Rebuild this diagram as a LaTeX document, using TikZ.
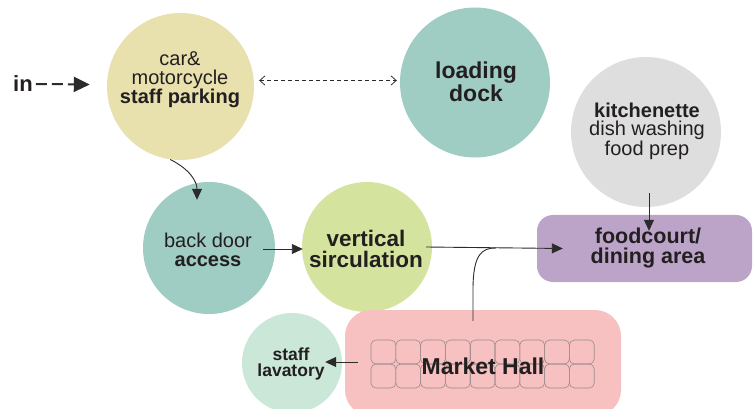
\documentclass[tikz,border=0pt]{standalone}
\usepackage{fontspec}
\setmainfont{Liberation Sans}
\usetikzlibrary{arrows.meta,calc}
\definecolor{ink}{HTML}{231F20}
\definecolor{lineink}{HTML}{2B2B2B}
\definecolor{parkc}{HTML}{E8E1AE}
\definecolor{tealc}{HTML}{9FCCC3}
\definecolor{vertc}{HTML}{D4E39D}
\definecolor{kitc}{HTML}{DEDEDF}
\definecolor{foodc}{HTML}{BCA4C8}
\definecolor{mhc}{HTML}{F8C1C1}
\definecolor{lavc}{HTML}{CBE7D8}
\definecolor{cellc}{HTML}{9A8A8A}
\begin{document}
\begin{tikzpicture}[x=1pt,y=-1pt,
  bubble/.style={circle, inner sep=0pt, minimum size=#1, draw=none},
  lbl/.style={align=center, text=ink, inner sep=0pt},
  conn/.style={draw=lineink, line width=0.9pt, -{Triangle[length=11pt,width=10pt]}},
  thin conn/.style={draw=lineink, line width=0.9pt}]
\useasboundingbox (0,0) rectangle (753,409);
\clip (0,0) rectangle (753,409);

% shapes
\node[bubble=147pt, fill=parkc] (park) at (180.5,86.5) {};
\node[bubble=150pt, fill=tealc] (dock) at (475,82.5) {};
\node[bubble=150pt, fill=kitc] (kit) at (646,132) {};
\node[bubble=132pt, fill=tealc] (bd) at (209,248) {};
\node[bubble=130pt, fill=vertc] (vs) at (367,247) {};
\node[bubble=100pt, fill=lavc] (lav) at (292,363) {};
\node[rectangle, rounded corners=16pt, fill=foodc, minimum width=215pt, minimum height=67pt, inner sep=0pt] (fc) at (644.5,248.5) {};
\node[rectangle, rounded corners=26pt, fill=mhc, minimum width=276pt, minimum height=106pt, inner sep=0pt] (mh) at (483,363) {};

% market stalls grid
\foreach \i in {0,...,8}{
  \foreach \j in {0,1}{
    \draw[cellc, line width=0.6pt, rounded corners=5pt]
      ({371+\i*24.8},{340+\j*24}) rectangle ({371+(\i+1)*24.8},{340+(\j+1)*24});
  }
}

% labels
\node[lbl, font=\bfseries\fontsize{22}{20}\selectfont] (intext) at (23,84) {in};
\node[lbl, font=\fontsize{20}{19}\selectfont] (parkt) at (180,80) {car\&\\motorcycle\\\textbf{staff parking}};
\node[lbl, font=\bfseries\fontsize{23}{18}\selectfont] (dockt) at (476,82) {loading\\dock};
\node[lbl, font=\fontsize{20}{18.5}\selectfont] (kitt) at (647,131) {\textbf{kitchenette}\\dish washing\\food prep};
\node[lbl, font=\fontsize{20}{19.5}\selectfont] (bdt) at (208,250) {back door\\\textbf{access}};
\node[lbl, font=\bfseries\fontsize{22.5}{20.5}\selectfont] (vst) at (366,249) {vertical\\sirculation};
\node[lbl, font=\bfseries\fontsize{21.5}{20}\selectfont] (fct) at (648,248) {foodcourt/\\dining area};
\node[lbl, font=\bfseries\fontsize{23}{20}\selectfont] (mht) at (483,366) {Market Hall};
\node[lbl, font=\bfseries\fontsize{17.5}{16.5}\selectfont] (lavt) at (291,364) {staff\\lavatory};

% connectors
\draw[draw=lineink, line width=2pt, dash pattern=on 11pt off 5pt,
      -{Triangle[length=16pt,width=15pt]}]
  (intext.east) ++(3,0) coordinate (inA) (inA) -- ($(park.west)+(-17,-2)$);
\draw[draw=lineink, line width=0.8pt, dash pattern=on 4pt off 3pt,
      {Straight Barb[length=5pt,width=9pt]}-{Straight Barb[length=5pt,width=9pt]}]
  ($(park.east)+(5,-6)$) -- ($(dock.west)+(-3,-2)$);
\draw[conn] (park.-98) .. controls +(20,10) and +(0,-18) .. ($(bd.north)+(-12,18)$);
\draw[conn] ($(bd.east)+(-12,1)$) -- ($(vs.west)+(1,2)$);
\draw[conn] ($(vs.east)+(-6,0)$) -- ($(fc.west)+(26,0)$);
\coordinate (join) at (496,248);
\draw[thin conn] ($(mh.north)+(-10,11)$) -- ($(mh.north)+(-10,-20)$) .. controls +(0,-36) and +(-14,0) .. (join);
\draw[conn] ($(kit.south)+(3,-14)$) -- ($(fc.north)+(4.5,16)$);
\draw[conn] ($(mh.west)+(13,-1)$) -- ($(lav.east)+(-17,-1)$);
\end{tikzpicture}
\end{document}
